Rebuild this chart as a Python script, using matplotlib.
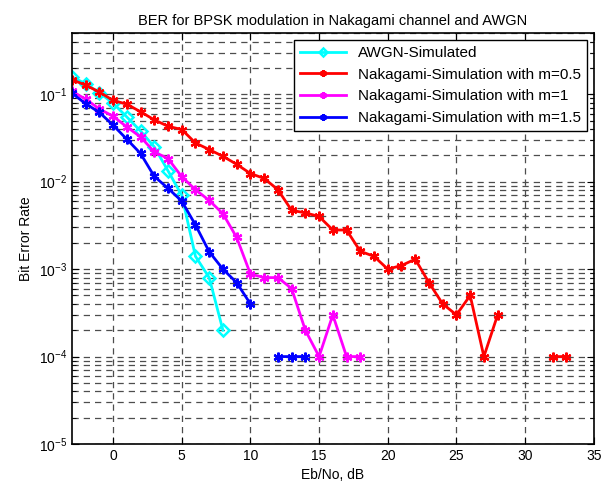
import numpy as np
import matplotlib
matplotlib.use("Agg")
import matplotlib.pyplot as plt

plt.rcParams['font.family'] = ['Liberation Sans', 'DejaVu Sans']

# === DATA (zero BER counts shown as gaps) ===
snr_awgn = list(range(-3, 9))
ber_awgn = [0.158, 0.132, 0.104, 0.079, 0.055, 0.038, 0.025, 0.0133, 0.0070,
            0.0014, 0.0008, 0.0002]

snr_m05 = list(range(-3, 34))
ber_m05 = [0.147, 0.127, 0.106, 0.085, 0.077, 0.063, 0.051, 0.043, 0.0395,
           0.0277, 0.0233, 0.0195, 0.0158, 0.0124, 0.0109, 0.0081, 0.0047,
           0.0044, 0.0040, 0.0028, 0.0028, 0.0016, 0.0014, 0.0010, 0.0011,
           0.0013, 0.0007, 0.0004, 0.0003, 0.0005, 0.0001, 0.0003,
           np.nan, np.nan, np.nan, 0.0001, 0.0001]

snr_m1 = list(range(-3, 19))
ber_m1 = [0.108, 0.088, 0.068, 0.056, 0.0423, 0.0325, 0.0219, 0.0184, 0.0114,
          0.0081, 0.0061, 0.0043, 0.0023, 0.00088, 0.0008, 0.0008, 0.0006,
          0.0002, 0.0001, 0.0003, 0.0001, 0.0001]

snr_m15 = list(range(-3, 15))
ber_m15 = [0.103, 0.078, 0.062, 0.0443, 0.0306, 0.021, 0.0115, 0.0084, 0.006,
           0.0032, 0.00158, 0.001, 0.0007, 0.0004, np.nan, 0.0001, 0.0001,
           0.0001]

labels = ["AWGN-Simulated",
          "Nakagami-Simulation with m=0.5",
          "Nakagami-Simulation with m=1",
          "Nakagami-Simulation with m=1.5"]

# === PLOT ===
fig = plt.figure(figsize=(6.09, 4.84), dpi=100)
ax = fig.add_axes([0.118, 0.0826, 0.857, 0.849])

star = (6, 2, 0)  # asterisk marker, like MATLAB '*'
ax.semilogy(snr_awgn, ber_awgn, color=(0, 1, 1), marker='D', markersize=6,
            markerfacecolor='none', markeredgewidth=1.8, linewidth=2, label=labels[0])
ax.semilogy(snr_m05, ber_m05, color='red', marker=star, markersize=7,
            markeredgewidth=1.6, linewidth=2, label=labels[1])
ax.semilogy(snr_m1, ber_m1, color='magenta', marker=star, markersize=7,
            markeredgewidth=1.6, linewidth=2, label=labels[2])
ax.semilogy(snr_m15, ber_m15, color='blue', marker=star, markersize=7,
            markeredgewidth=1.6, linewidth=2, label=labels[3])

ax.set_xlim(-3, 35)
ax.set_ylim(1e-5, 0.5)
ax.set_xticks(range(0, 36, 5))
ax.set_yticks([1e-5, 1e-4, 1e-3, 1e-2, 1e-1])

grid_kw = dict(color='0.3', linestyle=(0, (5, 4)), linewidth=0.9)
ax.grid(True, which='major', axis='x', **grid_kw)
ax.grid(True, which='both', axis='y', **grid_kw)

ax.tick_params(which='both', direction='in', top=True, right=True,
               labelsize=10, colors='black')
ax.tick_params(which='major', length=5)
ax.tick_params(which='minor', length=3)
for s in ax.spines.values():
    s.set_linewidth(1.2)

ax.set_title("BER for BPSK modulation in Nakagami channel and AWGN", fontsize=10.5)
ax.set_xlabel("Eb/No, dB", fontsize=10)
ax.set_ylabel("Bit Error Rate", fontsize=10)

leg = ax.legend(loc='upper right', fontsize=11, fancybox=False, framealpha=1,
                edgecolor='black', handlelength=3.0, borderaxespad=0.45,
                labelspacing=0.5, markerscale=0.7)
leg.get_frame().set_linewidth(1.0)

fig.savefig("out.png", dpi=100)
